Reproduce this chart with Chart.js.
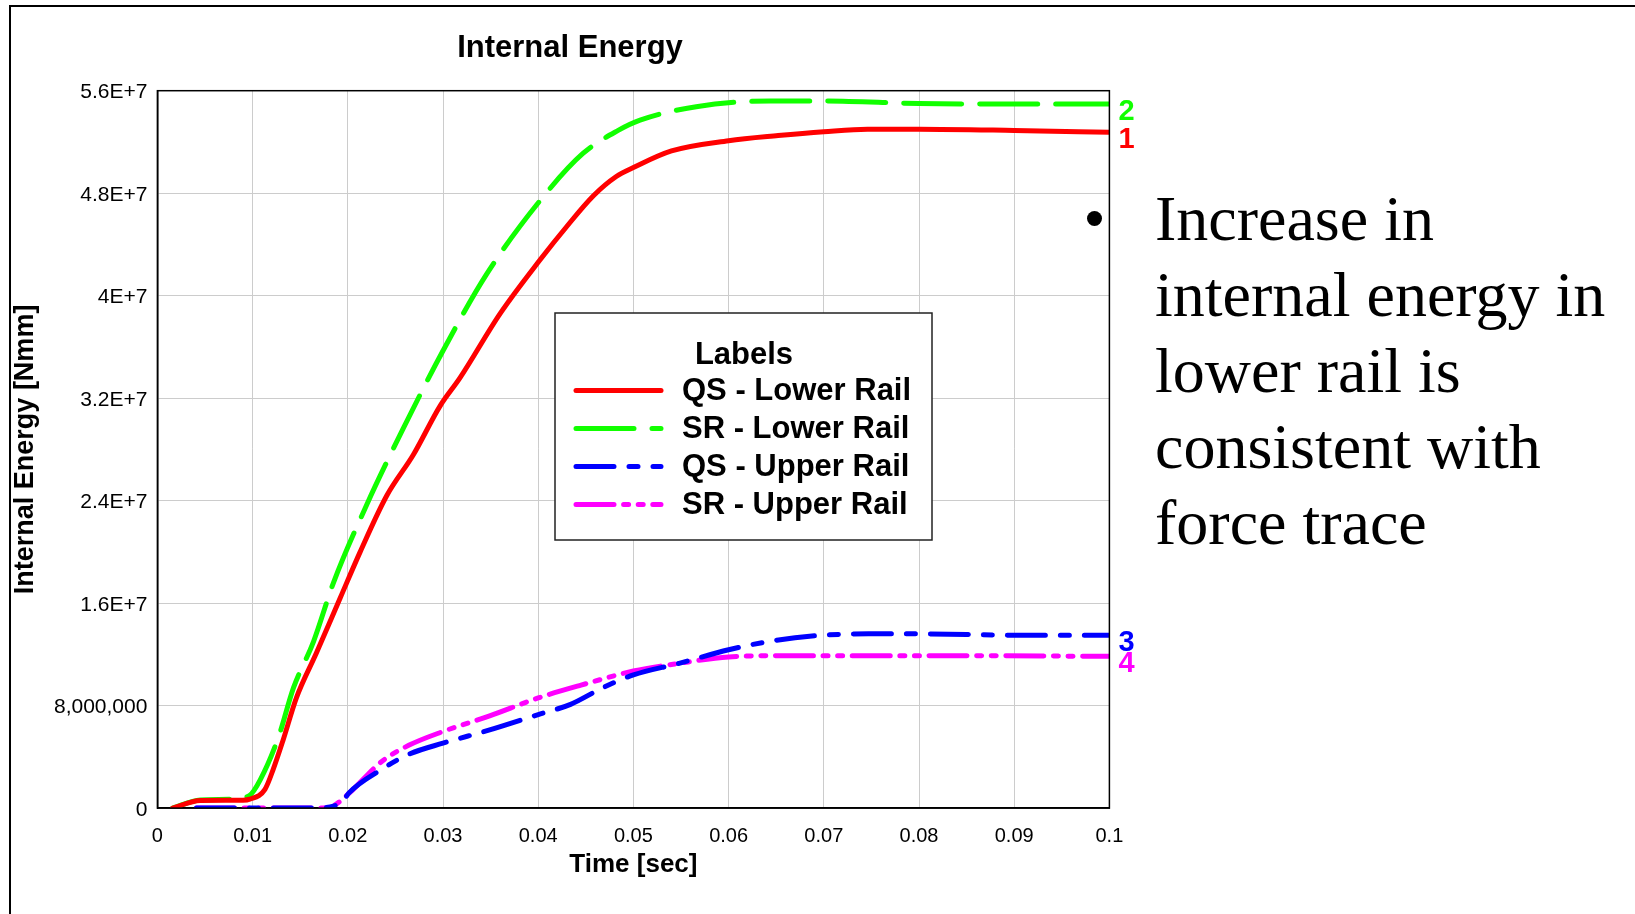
<!DOCTYPE html>
<html>
<head>
<meta charset="utf-8">
<script src="https://cdn.jsdelivr.net/npm/chart.js@4.4.0/dist/chart.umd.min.js"></script>
<style>
html,body{margin:0;padding:0;background:#fff;overflow:hidden;}
#wrap{position:relative;width:1635px;height:914px;background:#fff;}
#c{position:absolute;left:0;top:0;}
#frame{position:absolute;left:9px;top:5px;width:1700px;height:1000px;border-left:2px solid #000;border-top:2px solid #000;pointer-events:none;}
#bullet{position:absolute;left:1087px;top:211px;width:15px;height:15px;border-radius:50%;background:#000;}
#note{position:absolute;left:1155px;top:181px;font-family:"Times New Roman","Liberation Serif",serif;font-size:64px;line-height:76px;color:#000;white-space:nowrap;}
</style>
</head>
<body>
<div id="wrap">
  <canvas id="c" width="1635" height="914"></canvas>
  <div id="frame"></div>
  <div id="bullet"></div>
  <div id="note">Increase in<br>internal energy in<br>lower rail is<br>consistent with<br>force trace</div>
</div>
<script>
// ---------- data (time in s, internal energy in N·mm) ----------
const chartTitle = "Internal Energy";
const xAxisTitle = "Time [sec]";
const yAxisTitle = "Internal Energy [Nmm]";
const legendTitle = "Labels";
const seriesNames = ["QS - Lower Rail", "SR - Lower Rail", "QS - Upper Rail", "SR - Upper Rail"];
const endLabels = ["1", "2", "3", "4"];

const xTickValues = [0, 0.01, 0.02, 0.03, 0.04, 0.05, 0.06, 0.07, 0.08, 0.09, 0.1];
const xTickLabels = ["0", "0.01", "0.02", "0.03", "0.04", "0.05", "0.06", "0.07", "0.08", "0.09", "0.1"];
const yTickValues = [0, 8e6, 16e6, 24e6, 32e6, 40e6, 48e6, 56e6];
const yTickLabels = ["0", "8,000,000", "1.6E+7", "2.4E+7", "3.2E+7", "4E+7", "4.8E+7", "5.6E+7"];

const qsLowerT = [0.0016, 0.0045, 0.009, 0.0097, 0.0113, 0.0122, 0.0132, 0.0146, 0.0167, 0.0192, 0.0213, 0.0241, 0.0269, 0.0297, 0.0318, 0.036, 0.0402, 0.043, 0.0458, 0.0482, 0.05, 0.054, 0.06, 0.0652, 0.07, 0.0746, 0.08, 0.09, 0.1];
const qsLowerE = [0, 0.6e6, 0.62e6, 0.7e6, 1.47e6, 3.1e6, 5.3e6, 8.6e6, 12.1e6, 16.4e6, 20.0e6, 24.4e6, 27.6e6, 31.4e6, 33.6e6, 38.6e6, 42.8e6, 45.4e6, 47.8e6, 49.3e6, 50.0e6, 51.3e6, 52.1e6, 52.5e6, 52.8e6, 53.0e6, 53.0e6, 52.9e6, 52.75e6];

const srLowerT = [0.0016, 0.0045, 0.0078, 0.0097, 0.0108, 0.0127, 0.0143, 0.0164, 0.0185, 0.022, 0.0258, 0.03, 0.0346, 0.0405, 0.0447, 0.0484, 0.0507, 0.0566, 0.0644, 0.07, 0.08, 0.09, 0.1];
const srLowerE = [0, 0.63e6, 0.69e6, 1.0e6, 2.2e6, 5.5e6, 9.4e6, 13.0e6, 17.6e6, 23.7e6, 29.6e6, 35.7e6, 41.7e6, 47.7e6, 51.1e6, 52.9e6, 53.7e6, 54.75e6, 55.2e6, 55.2e6, 55.0e6, 54.96e6, 54.96e6];

const qsUpperT = [0.0041, 0.0167, 0.0185, 0.0195, 0.0201, 0.0235, 0.0264, 0.03, 0.0349, 0.04, 0.0434, 0.0468, 0.05, 0.0548, 0.06, 0.065, 0.07, 0.0747, 0.08, 0.09, 0.1];
const qsUpperE = [0, 0, 0.16e6, 0.55e6, 1.17e6, 3.0e6, 4.2e6, 5.07e6, 6.1e6, 7.3e6, 8.1e6, 9.4e6, 10.4e6, 11.3e6, 12.36e6, 13.1e6, 13.5e6, 13.6e6, 13.6e6, 13.5e6, 13.5e6];

const srUpperT = [0.0041, 0.0167, 0.0185, 0.0202, 0.0235, 0.0264, 0.03, 0.0349, 0.04, 0.0445, 0.05, 0.0548, 0.06, 0.0661, 0.08, 0.1];
const srUpperE = [0, 0, 0.2e6, 1.2e6, 3.6e6, 4.9e6, 5.98e6, 7.2e6, 8.6e6, 9.6e6, 10.7e6, 11.3e6, 11.8e6, 11.9e6, 11.9e6, 11.85e6];

// ---------- build ----------
const FONT = 'Arial, "Liberation Sans", sans-serif';
const zip = (t, e) => t.map((v, i) => ({x: v, y: e[i]}));

const styles = [
  {color: '#ff0000', dash: []},
  {color: '#11ff00', dash: [58, 18]},
  {color: '#0000ff', dash: [38, 15, 9, 15]},
  {color: '#ff00ff', dash: [38, 9.6, 5, 9.6, 5, 9.6]}
];
const seriesData = [zip(qsLowerT, qsLowerE), zip(srLowerT, srLowerE), zip(qsUpperT, qsUpperE), zip(srUpperT, srUpperE)];

const datasets = seriesData.map((d, i) => ({
  label: seriesNames[i],
  data: d,
  borderColor: styles[i].color,
  backgroundColor: styles[i].color,
  borderDash: styles[i].dash,
  borderWidth: 5,
  borderCapStyle: 'round',
  borderJoinStyle: 'round',
  pointRadius: 0,
  fill: false,
  cubicInterpolationMode: 'monotone'
}));

const decor = {
  id: 'decor',
  afterDraw(chart) {
    const {ctx, chartArea: a, scales: {y}} = chart;
    ctx.save();
    // plot frame
    ctx.strokeStyle = '#000';
    ctx.lineWidth = 1.5;
    ctx.setLineDash([]);
    ctx.strokeRect(a.left, a.top, a.right - a.left, a.bottom - a.top);
    // title
    ctx.fillStyle = '#000';
    ctx.font = 'bold 31px ' + FONT;
    ctx.textAlign = 'center';
    ctx.textBaseline = 'alphabetic';
    ctx.fillText(chartTitle, 570, 57);
    // end labels
    ctx.font = 'bold 29px ' + FONT;
    ctx.textAlign = 'left';
    ctx.textBaseline = 'middle';
    chart.data.datasets.forEach((ds, i) => {
      const last = ds.data[ds.data.length - 1];
      ctx.fillStyle = ds.borderColor;
      ctx.fillText(endLabels[i], a.right + 9, y.getPixelForValue(last.y) + 8);
    });
    // legend box
    const bx = 555, by = 313, bw = 377, bh = 227;
    ctx.fillStyle = '#fff';
    ctx.fillRect(bx, by, bw, bh);
    ctx.strokeStyle = '#222';
    ctx.lineWidth = 1.5;
    ctx.strokeRect(bx, by, bw, bh);
    ctx.fillStyle = '#000';
    ctx.font = 'bold 31px ' + FONT;
    ctx.textAlign = 'center';
    ctx.textBaseline = 'middle';
    ctx.fillText(legendTitle, 744, 355);
    const rowY = [390.5, 428.5, 466.5, 504.5];
    chart.data.datasets.forEach((ds, i) => {
      ctx.strokeStyle = ds.borderColor;
      ctx.lineWidth = 5;
      ctx.lineCap = 'round';
      ctx.setLineDash(ds.borderDash);
      ctx.beginPath();
      ctx.moveTo(576, rowY[i]);
      ctx.lineTo(661, rowY[i]);
      ctx.stroke();
      ctx.setLineDash([]);
      ctx.fillStyle = '#000';
      ctx.textAlign = 'left';
      ctx.fillText(ds.label, 682, rowY[i] + 1);
    });
    ctx.restore();
  }
};

new Chart(document.getElementById('c'), {
  type: 'line',
  data: {datasets},
  plugins: [decor],
  options: {
    responsive: false,
    animation: false,
    devicePixelRatio: 1,
    layout: {padding: {left: 5, top: 90.7, right: 525.6, bottom: 30}},
    plugins: {legend: {display: false}, title: {display: false}, tooltip: {enabled: false}},
    scales: {
      x: {
        type: 'linear', min: 0, max: 0.1,
        afterFit: s => { s.height = 75.9; },
        afterBuildTicks: s => { s.ticks = xTickValues.map(v => ({value: v})); },
        ticks: {
          autoSkip: false, maxRotation: 0, padding: 16, color: '#000',
          font: {family: FONT, size: 20},
          callback: v => xTickLabels[xTickValues.findIndex(t => Math.abs(t - v) < 1e-9)]
        },
        grid: {color: '#cccccc', lineWidth: 1, drawTicks: false},
        border: {display: true, color: '#000', width: 1.5},
        title: {display: true, text: xAxisTitle, color: '#000', font: {family: FONT, size: 26, weight: 'bold'}, padding: {top: 4, bottom: 4}}
      },
      y: {
        type: 'linear', min: 0, max: 56e6,
        afterFit: s => { s.width = 152.4; },
        afterBuildTicks: s => { s.ticks = yTickValues.map(v => ({value: v})); },
        ticks: {
          autoSkip: false, padding: 10, labelOffset: 2, color: '#000',
          font: {family: FONT, size: 21},
          callback: v => yTickLabels[yTickValues.findIndex(t => Math.abs(t - v) < 1)]
        },
        grid: {color: '#cccccc', lineWidth: 1, drawTicks: false},
        border: {display: true, color: '#000', width: 1.5},
        title: {display: true, text: yAxisTitle, color: '#000', font: {family: FONT, size: 27, weight: 'bold'}, padding: {top: 4, bottom: 4}}
      }
    }
  }
});
</script>
</body>
</html>
